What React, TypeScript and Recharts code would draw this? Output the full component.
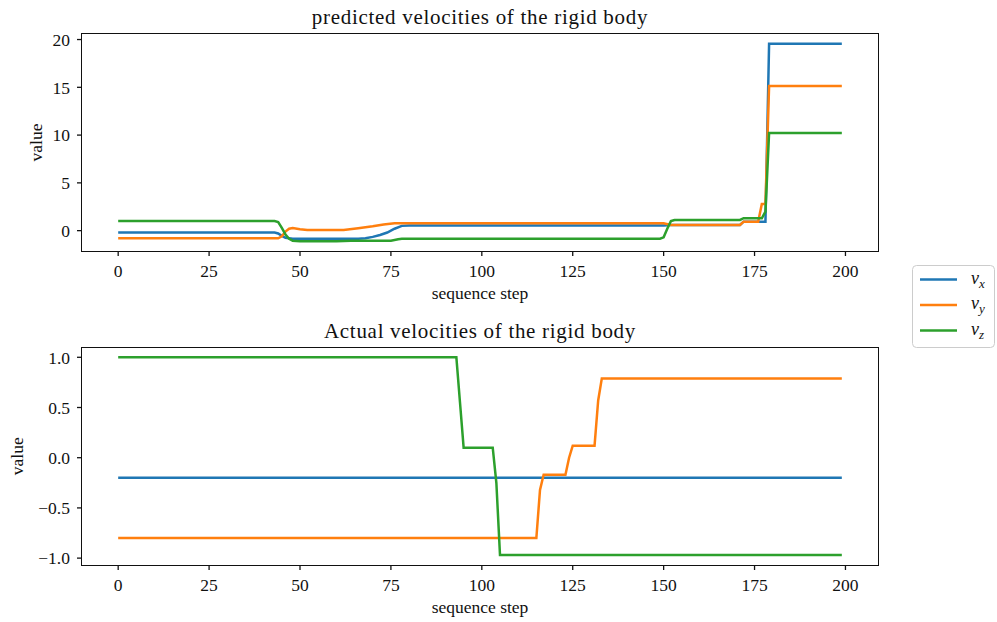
import React from "react";
import { LineChart, Line, XAxis, YAxis, Legend } from "recharts";

const FONT = "'Liberation Serif', 'Times New Roman', serif";
const INK = "#111";
const BLUE = "#1f77b4";
const ORANGE = "#ff7f0e";
const GREEN = "#2ca02c";

// x axis (shared by both panels)
const stepTicks = [0, 25, 50, 75, 100, 125, 150, 175, 200];
const stepDomain = [-9.95, 208.95];

// predicted velocities: polyline vertices (sequence step -> value)
const predVxSteps = [0, 43, 44, 45, 46, 48, 66, 68, 70, 72, 74, 76, 78, 80, 150, 152, 171, 172, 178, 179, 199];
const predVx = [-0.2, -0.2, -0.3, -0.55, -0.75, -0.85, -0.85, -0.8, -0.65, -0.45, -0.2, 0.2, 0.5, 0.55, 0.55, 0.6, 0.6, 0.94, 0.94, 19.55, 19.55];

const predVySteps = [0, 44, 45, 46, 47, 48, 50, 52, 62, 66, 70, 73, 76, 150, 152, 171, 172, 176, 177, 178, 179, 199];
const predVy = [-0.8, -0.8, -0.6, -0.1, 0.2, 0.28, 0.15, 0.08, 0.08, 0.25, 0.45, 0.65, 0.77, 0.77, 0.6, 0.6, 0.94, 0.94, 2.8, 2.8, 15.15, 15.15];

const predVzSteps = [0, 43, 44, 45, 46, 47, 48, 50, 60, 64, 75, 77, 78, 149, 150, 151, 152, 153, 171, 172, 177, 178, 179, 199];
const predVz = [1.0, 1.0, 0.9, 0.3, -0.4, -0.85, -1.05, -1.12, -1.12, -1.05, -1.05, -0.9, -0.85, -0.85, -0.7, 0.2, 1.0, 1.12, 1.12, 1.3, 1.3, 2.0, 10.23, 10.23];

const predTicks = [0, 5, 10, 15, 20];
const predDomain = [-2.13, 20.58];

// actual velocities: polyline vertices (sequence step -> value)
const actVxSteps = [0, 199];
const actVx = [-0.2, -0.2];

const actVySteps = [0, 115, 116, 117, 123, 124, 125, 131, 132, 133, 199];
const actVy = [-0.8, -0.8, -0.32, -0.17, -0.17, 0.0, 0.12, 0.12, 0.57, 0.79, 0.79];

const actVzSteps = [0, 93, 94, 95, 103, 104, 105, 199];
const actVz = [1.0, 1.0, 0.55, 0.1, 0.1, -0.25, -0.97, -0.97];

const actTicks = [-1, -0.5, 0, 0.5, 1];
const actDomain = [-1.0685, 1.0985];

const zip = (steps: number[], values: number[]) => steps.map((s, i) => ({ step: s, value: values[i] }));

const fmtInt = (v: number) => String(v);
const fmtOne = (v: number) => (v < 0 ? "\u2212" : "") + Math.abs(v).toFixed(1);

function LegendBox(props: any) {
  const payload = props.payload || [];
  return (
    <svg width={84} height={84} style={{ display: "block" }}>
      <rect x={0.5} y={0.5} width={82} height={82} rx={4} fill="rgba(255,255,255,0.8)" stroke="#cccccc" />
      {payload.map((e: any, i: number) => {
        const y = 14.5 + i * 25.5;
        const sub = String(e.value).slice(1);
        return (
          <g key={e.value}>
            <line x1={8} x2={45} y1={y} y2={y} stroke={e.color} strokeWidth={2.5} />
            <text x={59} y={y + 4} fontFamily={FONT} fontSize={18} fontStyle="italic" fill={INK}>
              v
              <tspan dy={4} fontSize={13}>{sub}</tspan>
            </text>
          </g>
        );
      })}
    </svg>
  );
}

type Series = { name: string; color: string; data: { step: number; value: number }[] };

function Panel(props: {
  top: number;
  height: number;
  title: string;
  titleTop: number;
  marginTop: number;
  marginBottom: number;
  yAxisWidth: number;
  yLabelOffset: number;
  yDomain: number[];
  yTicks: number[];
  yFmt: (v: number) => string;
  series: Series[];
  legend?: boolean;
}) {
  const plotTop = props.top + props.marginTop;
  const plotHeight = props.height - props.marginTop - props.marginBottom - 50;
  const tickStyle = { fill: INK, fontSize: 17.5, fontFamily: FONT };
  return (
    <>
      <div
        style={{
          position: "absolute",
          left: 82,
          width: 796,
          top: props.titleTop,
          textAlign: "center",
          fontFamily: FONT,
          fontSize: 21,
          lineHeight: "21px",
          letterSpacing: 0.7,
          color: INK,
          whiteSpace: "nowrap",
        }}
      >
        {props.title}
      </div>
      <div style={{ position: "absolute", left: 0, top: props.top }}>
        <LineChart
          width={997}
          height={props.height}
          margin={{ top: props.marginTop, right: 119, bottom: props.marginBottom, left: 82 - props.yAxisWidth }}
        >
          <XAxis
            dataKey="step"
            type="number"
            domain={stepDomain}
            ticks={stepTicks}
            tickFormatter={fmtInt}
            allowDataOverflow
            height={50}
            axisLine={false}
            tickLine={{ stroke: INK, strokeWidth: 1.3 }}
            tickSize={5}
            tickMargin={9}
            tick={tickStyle}
            label={{
              value: "sequence step",
              position: "insideBottom",
              offset: 2,
              fill: INK,
              fontSize: 17.5,
              fontFamily: FONT,
            }}
          />
          <YAxis
            dataKey="value"
            type="number"
            domain={props.yDomain}
            ticks={props.yTicks}
            tickFormatter={props.yFmt}
            allowDataOverflow
            width={props.yAxisWidth}
            axisLine={false}
            tickLine={{ stroke: INK, strokeWidth: 1.3 }}
            tickSize={5}
            tickMargin={7}
            tick={tickStyle}
            label={{
              value: "value",
              angle: -90,
              position: "insideLeft",
              offset: props.yLabelOffset,
              fill: INK,
              fontSize: 17.5,
              fontFamily: FONT,
              style: { textAnchor: "middle" },
            }}
          />
          {props.series.map((s) => (
            <Line
              key={s.name}
              data={s.data}
              dataKey="value"
              name={s.name}
              type="linear"
              stroke={s.color}
              strokeWidth={2.5}
              dot={false}
              activeDot={false}
              isAnimationActive={false}
            />
          ))}
          {props.legend && (
            <Legend
              layout="horizontal"
              align="center"
              verticalAlign="middle"
              content={<LegendBox />}
              wrapperStyle={{ position: "absolute", left: 912, top: 265, width: 84, height: 84 }}
            />
          )}
        </LineChart>
      </div>
      <div
        style={{
          position: "absolute",
          left: 81.3,
          top: plotTop - 0.7,
          width: 797.4,
          height: plotHeight + 1.4,
          boxSizing: "border-box",
          border: `1.3px solid ${INK}`,
          pointerEvents: "none",
        }}
      />
    </>
  );
}

export default function App() {
  const predicted: Series[] = [
    { name: "vx", color: BLUE, data: zip(predVxSteps, predVx) },
    { name: "vy", color: ORANGE, data: zip(predVySteps, predVy) },
    { name: "vz", color: GREEN, data: zip(predVzSteps, predVz) },
  ];
  const actual: Series[] = [
    { name: "vx", color: BLUE, data: zip(actVxSteps, actVx) },
    { name: "vy", color: ORANGE, data: zip(actVySteps, actVy) },
    { name: "vz", color: GREEN, data: zip(actVzSteps, actVz) },
  ];
  return (
    <div style={{ position: "absolute", left: 0, top: 0, width: 997, height: 622, background: "#fff", overflow: "hidden" }}>
      <Panel
        top={0}
        height={310}
        title="predicted velocities of the rigid body"
        titleTop={7.4}
        marginTop={34}
        marginBottom={9}
        yAxisWidth={60}
        yLabelOffset={14}
        yDomain={predDomain}
        yTicks={predTicks}
        yFmt={fmtInt}
        series={predicted}
        legend
      />
      <Panel
        top={310}
        height={312}
        title="Actual velocities of the rigid body"
        titleTop={321.4}
        marginTop={37.4}
        marginBottom={7}
        yAxisWidth={70}
        yLabelOffset={5}
        yDomain={actDomain}
        yTicks={actTicks}
        yFmt={fmtOne}
        series={actual}
      />
    </div>
  );
}
